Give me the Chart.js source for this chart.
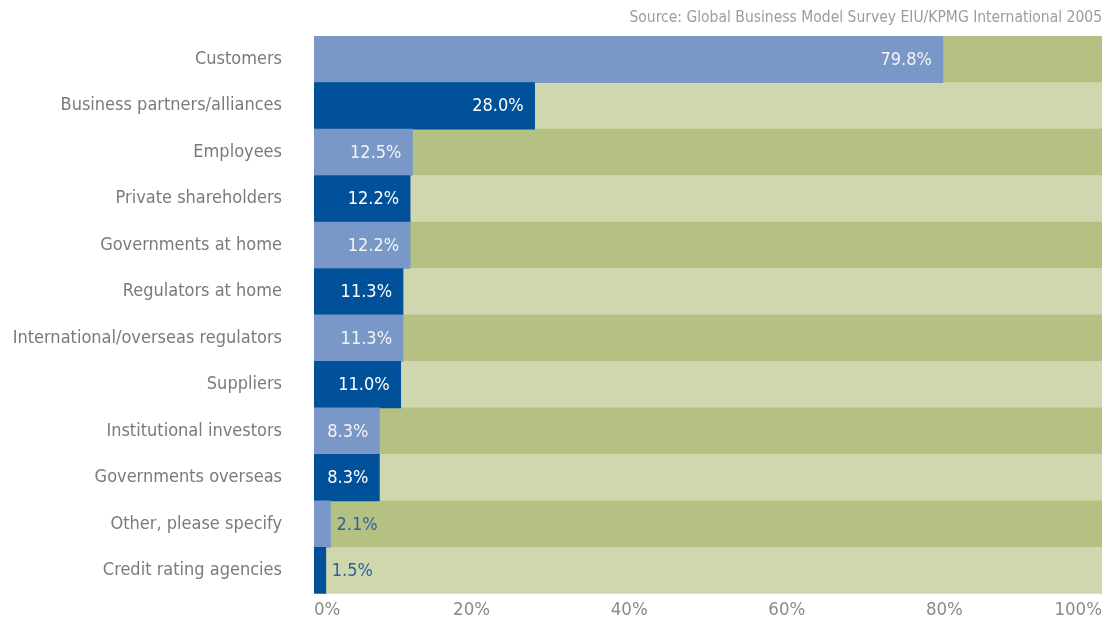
<!DOCTYPE html>
<html>
<head>
<meta charset="utf-8">
<script src="https://cdn.jsdelivr.net/npm/chart.js@4"></script>
<style>
  html, body { margin: 0; padding: 0; background: #ffffff; }
  #wrap { width: 1115px; height: 626px; position: relative; }
</style>
</head>
<body>
<div id="wrap"><canvas id="c" width="1115" height="626"></canvas></div>
<script>
const categories = [
  "Customers",
  "Business partners/alliances",
  "Employees",
  "Private shareholders",
  "Governments at home",
  "Regulators at home",
  "International/overseas regulators",
  "Suppliers",
  "Institutional investors",
  "Governments overseas",
  "Other, please specify",
  "Credit rating agencies"
];
const shareValues = [79.8, 28.0, 12.5, 12.2, 12.2, 11.3, 11.3, 11.0, 8.3, 8.3, 2.1, 1.5];
const remainderValues = [20.2, 72.0, 87.5, 87.8, 87.8, 88.7, 88.7, 89.0, 91.7, 91.7, 97.9, 98.5];
const xTickValues = [0, 20, 40, 60, 80, 100];
const sourceText = "Source: Global Business Model Survey EIU/KPMG International 2005";

// pick the first installed condensed family
function fontAvailable(name) {
  const c = document.createElement('canvas').getContext('2d');
  const s = 'abcdefghijklmnopqrstuvwxyz ABCDEFGHIJ 0123456789%';
  c.font = '40px monospace';
  const w1 = c.measureText(s).width;
  c.font = "40px '" + name + "', monospace";
  const w2 = c.measureText(s).width;
  c.font = '40px serif';
  const w3 = c.measureText(s).width;
  c.font = "40px '" + name + "', serif";
  const w4 = c.measureText(s).width;
  return w1 !== w2 || w3 !== w4;
}
const candidates = ['Liberation Sans Narrow', 'DejaVu Sans Condensed', 'Roboto Condensed', 'Open Sans Condensed', 'Roboto'];
const picked = candidates.find(fontAvailable) || 'Liberation Sans';
const FONT = "'" + picked + "', sans-serif";

const blueColors = categories.map((_, i) => i % 2 === 0 ? '#7998c7' : '#00519a');
const greenColors = categories.map((_, i) => i % 2 === 0 ? '#b4c183' : '#cfd7ae');
const labelColors = categories.map((_, i) => i % 2 === 0 ? '#f4f4f4' : '#ffffff');

const valueLabels = {
  id: 'valueLabels',
  afterDatasetsDraw(chart) {
    const ctx = chart.ctx;
    const meta = chart.getDatasetMeta(0);
    ctx.save();
    ctx.font = "18px " + FONT;
    ctx.textBaseline = 'middle';
    meta.data.forEach((el, i) => {
      const v = shareValues[i];
      const txt = v.toFixed(1) + '%';
      if (v >= 5) {
        ctx.textAlign = 'right';
        ctx.fillStyle = labelColors[i];
        ctx.fillText(txt, el.x - 11, el.y + 1);
      } else {
        ctx.textAlign = 'left';
        ctx.fillStyle = '#2f5f9e';
        ctx.fillText(txt, el.x + 6, el.y + 1);
      }
    });
    ctx.restore();
  }
};

new Chart(document.getElementById('c'), {
  type: 'bar',
  data: {
    labels: categories,
    datasets: [
      { data: shareValues, backgroundColor: blueColors, borderWidth: 0,
        barPercentage: 1, categoryPercentage: 1 },
      { data: remainderValues, backgroundColor: greenColors, borderWidth: 0,
        barPercentage: 1, categoryPercentage: 1 }
    ]
  },
  options: {
    indexAxis: 'y',
    responsive: false,
    animation: false,
    layout: { padding: { left: 0, right: 13, top: 0, bottom: 0 } },
    plugins: {
      legend: { display: false },
      tooltip: { enabled: false },
      title: {
        display: true,
        text: sourceText,
        align: 'end',
        color: '#9c9c9c',
        font: { family: FONT, size: 15.5, weight: 'normal', lineHeight: 1.2 },
        padding: { top: 9, bottom: 8.5 }
      }
    },
    scales: {
      x: {
        stacked: true,
        min: 0,
        max: 100,
        grid: { display: false, drawTicks: false },
        border: { display: false },
        afterBuildTicks(scale) {
          scale.ticks = xTickValues.map(v => ({ value: v }));
        },
        ticks: {
          align: 'inner',
          padding: 5,
          color: '#8a8a8a',
          font: { family: FONT, size: 18.5 },
          callback: (v) => v + '%'
        }
      },
      y: {
        stacked: true,
        grid: { display: false, drawTicks: false },
        border: { display: false },
        afterFit(scale) {
          scale.width = 314;
          scale.paddingTop = 0;
          scale.paddingBottom = 0;
        },
        ticks: {
          padding: 32,
          color: '#7a7a7a',
          font: { family: FONT, size: 18 }
        }
      }
    }
  },
  plugins: [valueLabels]
});
</script>
</body>
</html>
